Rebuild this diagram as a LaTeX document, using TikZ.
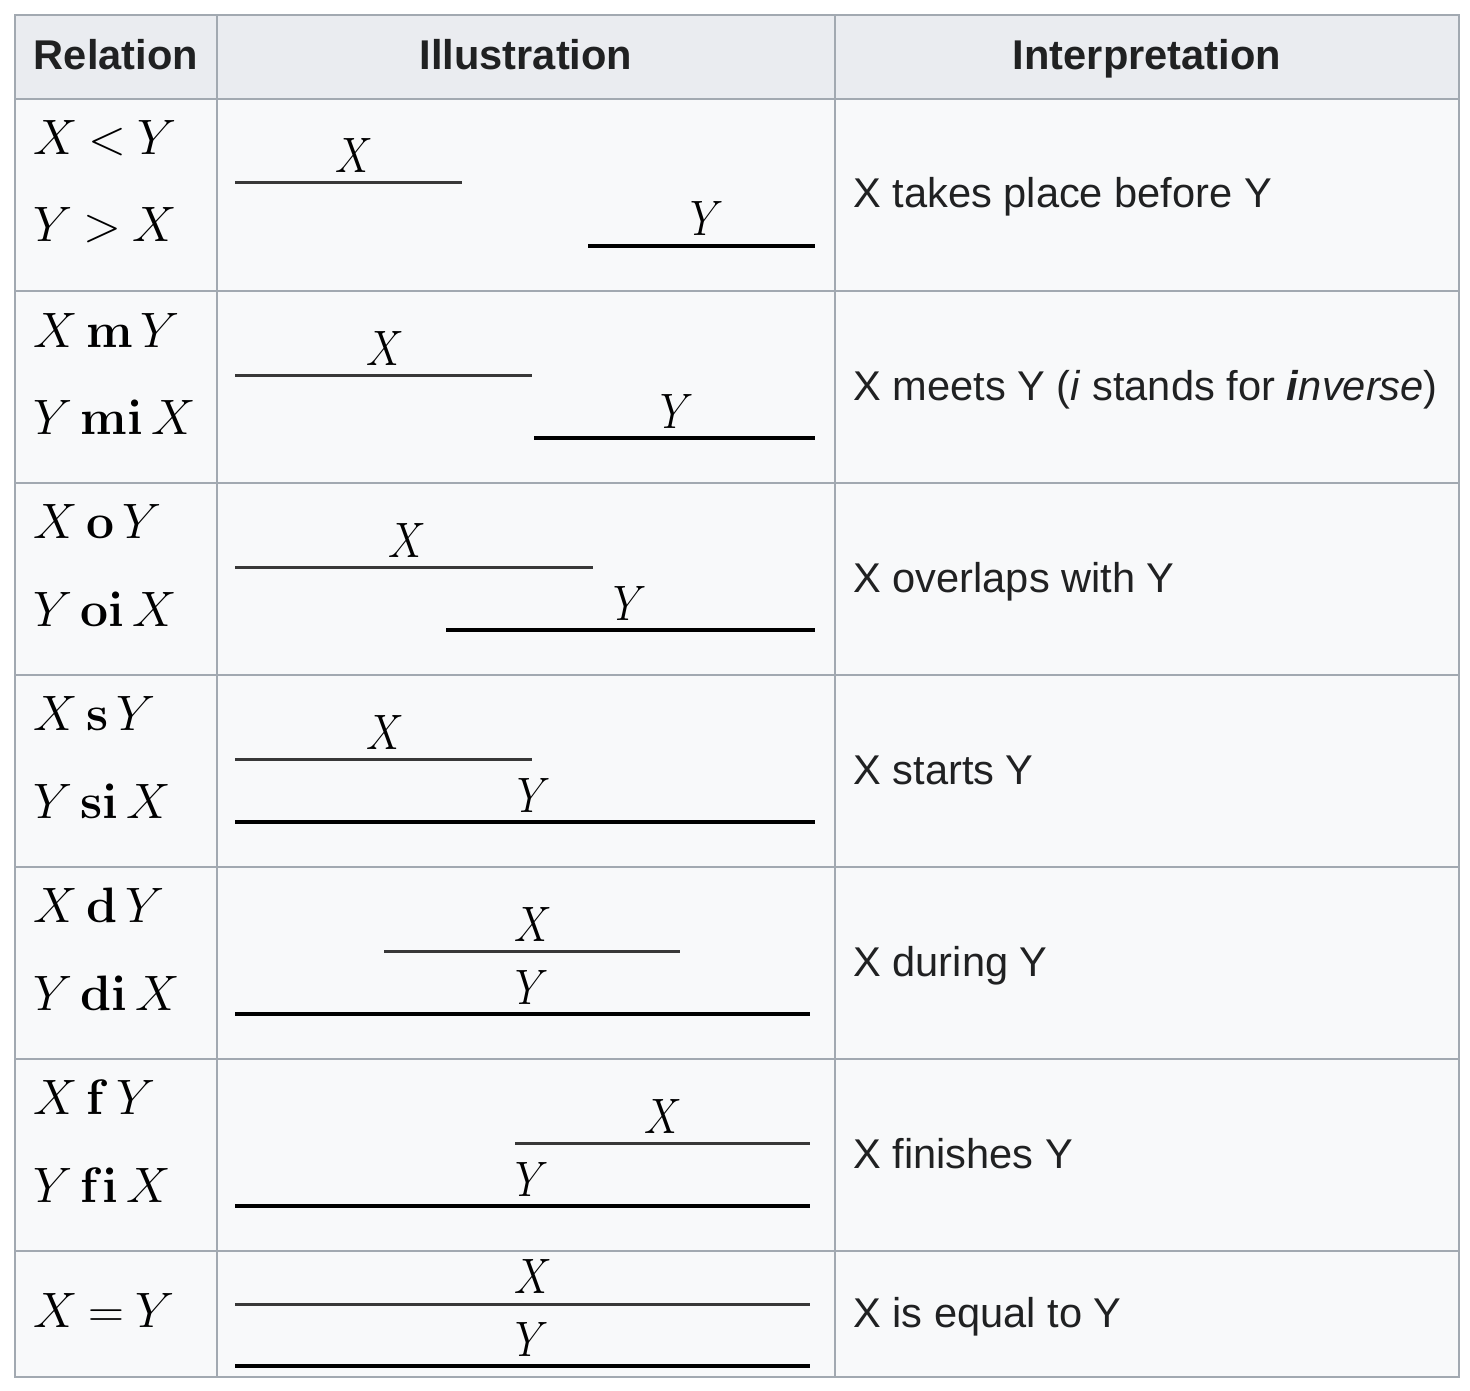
\documentclass[tikz,border=0pt]{standalone}
\usepackage[no-math]{fontspec}
\setmainfont{Liberation Sans}
\definecolor{bordc}{HTML}{A2A9B1}
\definecolor{headc}{HTML}{EAECF0}
\definecolor{bodyc}{HTML}{F8F9FA}
\definecolor{txt}{HTML}{202122}
\tikzset{
  hdr/.style={font=\fontsize{20.8}{25}\selectfont\bfseries, text=txt, inner sep=0pt, anchor=base},
  rel/.style={font=\fontsize{25}{30}\selectfont, text=black, inner sep=0pt, anchor=base west},
  interp/.style={font=\fontsize{20.8}{25}\selectfont, text=txt, inner sep=0pt, anchor=base west},
  lbl/.style={font=\fontsize{23}{23}\selectfont, text=black, inner sep=0pt, anchor=base},
  xline/.style={line width=1.5pt, draw=black!78},
  yline/.style={line width=1.7pt, draw=black},
  grid/.style={draw=bordc, line width=1pt}
}
\newcommand{\lab}[1]{\scalebox{0.85}[1]{$#1$}}
\newcommand{\rl}[3]{$#1\,\mathbf{#2}\,#3$}
\begin{document}
\begin{tikzpicture}[x=0.5pt, y=-0.5pt]
\useasboundingbox (0,0) rectangle (1470,1390);
% backgrounds
\fill[headc] (15,15) rectangle (1459,99);
\fill[bodyc] (15,99) rectangle (1459,1377);
% grid
\draw[grid] (15,15) rectangle (1459,1377);
\foreach \yy in {99,291,483,675,867,1059,1251} \draw[grid] (15,\yy) -- (1459,\yy);
\draw[grid] (217,15) -- (217,1377);
\draw[grid] (835,15) -- (835,1377);
% headers
\node[hdr] (h1) at (116,70) {Relation};
\node[hdr] (h2) at (526,70) {Illustration};
\node[hdr] (h3) at (1147,70) {Interpretation};
% ---- row 1
\node[rel] (r1a) at (33,155) {$X\mskip4mu{<}\mskip4mu Y$};
\node[rel] (r1b) at (33,242) {$Y\mskip4mu{>}\mskip4mu X$};
\draw[xline] (235,183) -- (462,183);
\node[lbl] (l1x) at (354,173) {\lab{X}};
\draw[yline] (588,246) -- (815,246);
\node[lbl] (l1y) at (707,236) {\lab{Y}};
\node[interp] (i1) at (853,208) {X takes place before Y};
% ---- row 2
\node[rel] (r2a) at (33,347) {\rl{X}{m}{Y}};
\node[rel] (r2b) at (33,434) {\rl{Y}{mi}{X}};
\draw[xline] (235,375) -- (532,375);
\node[lbl] (l2x) at (385,365) {\lab{X}};
\draw[yline] (534,438) -- (815,438);
\node[lbl] (l2y) at (677,428) {\lab{Y}};
\node[interp] (i2) at (853,400) {X meets Y (\textit{i} stands for \textbf{\textit{i}}\textit{nverse})};
% ---- row 3
\node[rel] (r3a) at (33,538) {\rl{X}{o}{Y}};
\node[rel] (r3b) at (33,626) {\rl{Y}{oi}{X}};
\draw[xline] (235,567) -- (593,567);
\node[lbl] (l3x) at (407,557) {\lab{X}};
\draw[yline] (446,630) -- (815,630);
\node[lbl] (l3y) at (630,620) {\lab{Y}};
\node[interp] (i3) at (853,592) {X overlaps with Y};
% ---- row 4
\node[rel] (r4a) at (33,730) {\rl{X}{s}{Y}};
\node[rel] (r4b) at (33,818) {\rl{Y}{si}{X}};
\draw[xline] (235,759) -- (532,759);
\node[lbl] (l4x) at (385,749) {\lab{X}};
\draw[yline] (235,822) -- (815,822);
\node[lbl] (l4y) at (534,812) {\lab{Y}};
\node[interp] (i4) at (853,784) {X starts Y};
% ---- row 5
\node[rel] (r5a) at (33,922) {\rl{X}{d}{Y}};
\node[rel] (r5b) at (33,1010) {\rl{Y}{di}{X}};
\draw[xline] (384,951) -- (680,951);
\node[lbl] (l5x) at (533,941) {\lab{X}};
\draw[yline] (235,1014) -- (810,1014);
\node[lbl] (l5y) at (532,1004) {\lab{Y}};
\node[interp] (i5) at (853,976) {X during Y};
% ---- row 6
\node[rel] (r6a) at (33,1114) {\rl{X}{f}{Y}};
\node[rel] (r6b) at (33,1202) {\rl{Y}{f\/i}{X}};
\draw[xline] (515,1143) -- (810,1143);
\node[lbl] (l6x) at (663,1133) {\lab{X}};
\draw[yline] (235,1206) -- (810,1206);
\node[lbl] (l6y) at (532,1196) {\lab{Y}};
\node[interp] (i6) at (853,1168) {X finishes Y};
% ---- row 7
\node[rel] (r7a) at (33,1327) {$X\mskip4mu{=}\mskip4mu Y$};
\draw[xline] (235,1304) -- (810,1304);
\node[lbl] (l7x) at (533,1293) {\lab{X}};
\draw[yline] (235,1366) -- (810,1366);
\node[lbl] (l7y) at (532,1356) {\lab{Y}};
\node[interp] (i7) at (853,1327) {X is equal to Y};
\end{tikzpicture}
\end{document}
